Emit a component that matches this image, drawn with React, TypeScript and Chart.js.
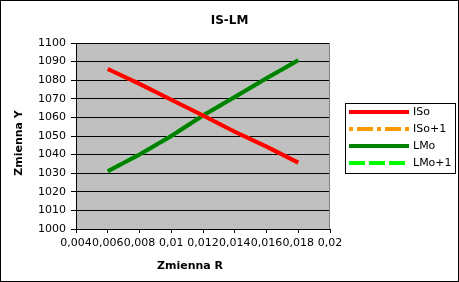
import React, { useEffect, useRef } from 'react';
import { Chart, registerables } from 'chart.js';

Chart.register(...registerables);

const TITLE = 'IS-LM';
const X_TITLE = 'Zmienna R';
const Y_TITLE = 'Zmienna Y';

const R_VALUES = [0.006, 0.008, 0.01, 0.012, 0.014, 0.016, 0.018];
const ISO = [1086, 1078, 1069.5, 1061, 1052.3, 1044.3, 1035.7];
const ISO_PLUS1 = [1086, 1078, 1069.5, 1061, 1052.3, 1044.3, 1035.7];
const LMO = [1031, 1040, 1050, 1061, 1071, 1081, 1090.7];
const LMO_PLUS1 = [1031, 1040, 1050, 1061, 1071, 1081, 1090.7];

const SERIES_LABELS = ['ISo', 'ISo+1', 'LMo', 'LMo+1'];

const X_TICKS = [0.004, 0.006, 0.008, 0.01, 0.012, 0.014, 0.016, 0.018, 0.02];
const X_TICK_LABELS = ['0,004', '0,006', '0,008', '0,01', '0,012', '0,014', '0,016', '0,018', '0,02'];
const Y_MIN = 1000;
const Y_MAX = 1100;
const Y_STEP = 10;

const FONT = '"DejaVu Sans", sans-serif';

const toPoints = (ys: number[]) => R_VALUES.map((x, i) => ({ x, y: ys[i] }));

const decorPlugin = {
  id: 'decor',
  beforeDraw(chart: any) {
    const { ctx, chartArea: a, width, height } = chart;
    ctx.save();
    ctx.fillStyle = '#ffffff';
    ctx.fillRect(0, 0, width, height);
    ctx.fillStyle = '#c0c0c0';
    ctx.fillRect(a.left, a.top, a.right - a.left, a.bottom - a.top);
    ctx.restore();
  },
  beforeDatasetsDraw(chart: any) {
    const { ctx, chartArea: a } = chart;
    ctx.save();
    ctx.strokeStyle = '#808080';
    ctx.lineWidth = 1;
    ctx.beginPath();
    ctx.moveTo(Math.round(a.right) - 0.5, a.top);
    ctx.lineTo(Math.round(a.right) - 0.5, a.bottom);
    ctx.stroke();
    ctx.restore();
  },
  afterDraw(chart: any) {
    const { ctx, chartArea: a, width, height } = chart;
    ctx.save();
    ctx.fillStyle = '#000000';
    ctx.textAlign = 'center';
    ctx.textBaseline = 'middle';
    // chart title, centred on the whole canvas
    ctx.font = `bold 12px ${FONT}`;
    ctx.fillText(TITLE, width / 2, 21);
    // axis titles
    ctx.font = `bold 11px ${FONT}`;
    ctx.fillText(X_TITLE, 190, 266);
    ctx.save();
    ctx.translate(19, 143);
    ctx.rotate(-Math.PI / 2);
    ctx.fillText(Y_TITLE, 0, 0);
    ctx.restore();
    // outer frame
    ctx.strokeStyle = '#000000';
    ctx.lineWidth = 1;
    ctx.setLineDash([]);
    ctx.strokeRect(0.5, 0.5, width - 1, height - 1);
    // legend
    const boxLeft = Math.round(a.right) + 15;
    const boxTop = 103;
    ctx.strokeRect(boxLeft + 0.5, boxTop + 0.5, 110, 70);
    const rowStep = 16.8;
    chart.data.datasets.forEach((ds: any, i: number) => {
      const y = Math.round(boxTop + 9.3 + i * rowStep);
      const x0 = boxLeft + 4;
      ctx.save();
      ctx.strokeStyle = ds.borderColor;
      ctx.lineWidth = 4;
      ctx.lineCap = 'butt';
      ctx.setLineDash(ds.borderDash || []);
      ctx.beginPath();
      ctx.moveTo(x0, y);
      ctx.lineTo(x0 + 60, y);
      ctx.stroke();
      ctx.restore();
      ctx.fillStyle = '#000000';
      ctx.font = `11px ${FONT}`;
      ctx.textBaseline = 'middle';
      ctx.textAlign = 'left';
      ctx.fillText(ds.label, x0 + 64, y);
    });
    ctx.restore();
  },
};

export default function App() {
  const canvasRef = useRef<HTMLCanvasElement | null>(null);

  useEffect(() => {
    document.body.style.margin = '0';
    const canvas = canvasRef.current;
    if (!canvas) return;
    Chart.defaults.font.family = FONT;
    const chart = new Chart(canvas, {
      type: 'line',
      data: {
        datasets: [
          { label: SERIES_LABELS[0], data: toPoints(ISO), borderColor: '#ff0000', backgroundColor: '#ff0000', borderWidth: 4, pointRadius: 0, tension: 0, borderDash: [] },
          { label: SERIES_LABELS[1], data: toPoints(ISO_PLUS1), borderColor: '#ff9900', backgroundColor: '#ff9900', borderWidth: 4, pointRadius: 0, tension: 0, borderDash: [4, 4, 16, 4] },
          { label: SERIES_LABELS[2], data: toPoints(LMO), borderColor: '#008000', backgroundColor: '#008000', borderWidth: 4, pointRadius: 0, tension: 0, borderDash: [] },
          { label: SERIES_LABELS[3], data: toPoints(LMO_PLUS1), borderColor: '#00ff00', backgroundColor: '#00ff00', borderWidth: 4, pointRadius: 0, tension: 0, borderDash: [16, 4] },
        ],
      },
      options: {
        responsive: false,
        devicePixelRatio: 1,
        animation: false,
        layout: { padding: { left: 0, right: 129, top: 43, bottom: 0 } },
        plugins: {
          legend: { display: false },
          tooltip: { enabled: false },
          title: { display: false },
        },
        scales: {
          x: {
            type: 'linear',
            min: X_TICKS[0],
            max: X_TICKS[X_TICKS.length - 1],
            afterBuildTicks: (scale: any) => {
              scale.ticks = X_TICKS.map((v) => ({ value: v }));
            },
            afterFit: (scale: any) => {
              scale.height = 53;
            },
            ticks: {
              autoSkip: false,
              maxRotation: 0,
              minRotation: 0,
              padding: 4,
              color: '#000000',
              font: { family: FONT, size: 11 },
              callback: (_v: any, i: number) => X_TICK_LABELS[i],
            },
            grid: { drawOnChartArea: false, drawTicks: true, tickLength: 4, color: '#000000', lineWidth: 1 },
            border: { display: true, color: '#000000', width: 1 },
            title: { display: false },
          },
          y: {
            type: 'linear',
            min: Y_MIN,
            max: Y_MAX,
            afterFit: (scale: any) => {
              scale.width = 76;
            },
            ticks: {
              stepSize: Y_STEP,
              padding: 5,
              color: '#000000',
              font: { family: FONT, size: 11 },
              callback: (v: any) => String(v),
            },
            grid: { color: '#000000', lineWidth: 1, tickLength: 5, drawTicks: true },
            border: { display: true, color: '#000000', width: 1 },
            title: { display: false },
          },
        },
      },
      plugins: [decorPlugin],
    });
    return () => chart.destroy();
  }, []);

  return (
    <canvas ref={canvasRef} width={459} height={282} style={{ display: 'block', width: 459, height: 282 }} />
  );
}
